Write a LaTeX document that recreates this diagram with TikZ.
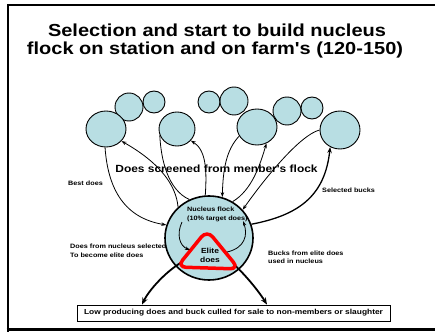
\documentclass[tikz,border=0pt]{standalone}
\usepackage{fontspec}
\newfontfamily\af{Liberation Sans}[FakeStretch=1.15]
\usetikzlibrary{shapes.geometric,arrows.meta,calc}
\definecolor{fillblue}{RGB}{184,222,227}
\definecolor{elitered}{RGB}{255,0,0}
\begin{document}
\begin{tikzpicture}[x=1pt,y=-1pt,
  blob/.style={ellipse, draw, line width=0.9pt, fill=fillblue, inner sep=0pt},
  thinarrow/.style={line width=0.8pt, -{Stealth[length=5pt,width=3.5pt]}},
  thinline/.style={line width=0.8pt},
  medarrow/.style={line width=1.3pt, -{Stealth[length=6pt,width=4.5pt]}},
  thickarrow/.style={line width=1.8pt, -{Stealth[length=7pt,width=5.5pt]}},
  lbl/.style={font=\af\fontsize{6.3}{9}\selectfont\bfseries, inner sep=0pt},
  elitelbl/.style={font=\af\fontsize{7.4}{9}\selectfont\bfseries, inner sep=0pt, anchor=base},
  titlelbl/.style={font=\af\fontsize{17.4}{18}\selectfont\bfseries, inner sep=0pt, anchor=base}]
\useasboundingbox (0,0) rectangle (435,331);
% frame
\draw[line width=2pt] (7.5,338) -- (7.5,5) -- (440,5);
\draw[line width=3pt] (6.5,329.3) -- (440,329.3);
% title
\node[titlelbl] (t1) at (217,37) {Selection and start to build nucleus};
\node[titlelbl] (t2) at (215,55) {flock on station and on farm's (120-150)};
% small circles
\node[blob, minimum width=28pt, minimum height=28pt] (B) at (129,107) {};
\node[blob, minimum width=22pt, minimum height=22pt] (C) at (154,102) {};
\node[blob, minimum width=22pt, minimum height=22pt] (E) at (209,102) {};
\node[blob, minimum width=28pt, minimum height=28pt] (F) at (234,101) {};
\node[blob, minimum width=28pt, minimum height=28pt] (H) at (287,111) {};
\node[blob, minimum width=22pt, minimum height=22pt] (I) at (312,108) {};
% big circles
\node[blob, minimum width=40pt, minimum height=36pt] (A) at (106,129) {};
\node[blob, minimum width=36pt, minimum height=34pt] (D) at (177,129) {};
\node[blob, minimum width=40pt, minimum height=36pt] (G) at (257,127) {};
\node[blob, minimum width=40pt, minimum height=38pt] (J) at (340,130) {};
% nucleus
\node[blob, line width=1.6pt, minimum width=88pt, minimum height=84pt] (N) at (209,238) {};
% box
\node[draw, line width=0.8pt, minimum width=313pt, minimum height=16pt, inner sep=0pt,
      font=\af\fontsize{7.3}{9}\selectfont\bfseries] (box) at (233.5,313) {Low producing does and buck culled for sale to non-members or slaughter};
% connectors circles <-> nucleus
\draw[thinarrow] (A.267) .. controls (108,190) and (125,218) .. (N.163);
\draw[thinarrow] (N.135) .. controls (176,185) and (160,163) .. (A.322);
\draw[thinline] (D.200) .. controls (161,160) and (168,190) .. (N.117);
\draw[thinarrow] (N.95) .. controls (207,170) and (206,150) .. (D.320);
\draw[thinarrow] (G.207) .. controls (226,150) and (223,170) .. (N.72);
\draw[thinarrow] (N.57) .. controls (252,190) and (260,165) .. (G.300);
\draw[thinarrow] (J.180) .. controls (300,135) and (265,178) .. (N.40);
\draw[medarrow] (N.18) .. controls (300,215) and (325,195) .. (J.240);
% coordinates on elite
\coordinate (nt) at (182,222);
\coordinate (eL) at (190,250);
\coordinate (eR) at (227,252);
\coordinate (nt2) at (243,221);
\coordinate (eBL) at (190,258);
\coordinate (eBR) at (226,258);
% bottom thick arrows
\draw[thickarrow] (eBL) .. controls (172,265) and (150,288) .. ([xshift=-91.5pt]box.north);
\draw[thickarrow] (eBR) .. controls (240,268) and (258,290) .. ([xshift=33.5pt]box.north);
% elite
\draw[line width=3.5pt, draw=elitered, fill=fillblue, rounded corners=9pt] (207,230) -- (177,267) -- (239,269) -- cycle;
\node[elitelbl] (el1) at (210,253) {Elite};
\node[elitelbl] (el2) at (210,262) {does};
% inner arrows
\draw[thinarrow] (nt) .. controls (176,235) and (180,246) .. (eL);
\draw[thinarrow] (eR) .. controls (245,248) and (248,235) .. (nt2);
% labels
\node[font=\af\fontsize{10.4}{12}\selectfont\bfseries, inner sep=0pt, anchor=base] (screen) at (216.5,172.5) {Does screened from menber's flock};
\node[lbl, anchor=base west] (bestdoes) at (68,185) {Best does};
\node[lbl, anchor=base west] (selbucks) at (322,192) {Selected bucks};
\node[lbl, anchor=base west] (dfn1) at (70,248) {Does from nucleus selected};
\node[lbl, anchor=base west] (dfn2) at (70,257) {To become elite does};
\node[lbl, anchor=base west] (bfe1) at (268,255) {Bucks from elite does};
\node[lbl, anchor=base west] (bfe2) at (268,263) {used in nucleus};
\node[lbl, anchor=base west] (nf1) at (187,211) {Nucleus flock};
\node[lbl, anchor=base west] (nf2) at (187,220) {(10\% target does)};
\end{tikzpicture}
\end{document}
